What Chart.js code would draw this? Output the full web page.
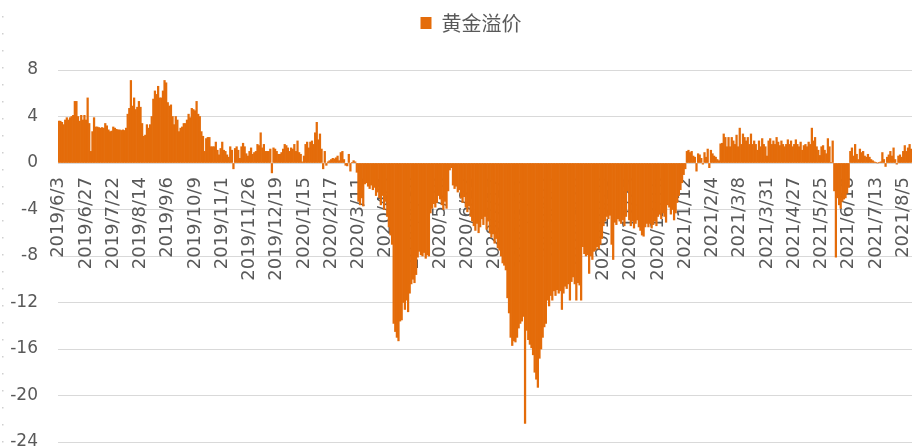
<!DOCTYPE html>
<html>
<head>
<meta charset="utf-8">
<script src="https://cdn.jsdelivr.net/npm/chart.js@4.4.1/dist/chart.umd.min.js"></script>
<style>
html,body{margin:0;padding:0;background:#fff;}
#wrap{width:912px;height:447px;position:relative;}
</style>
</head>
<body>
<div id="wrap"><canvas id="c"></canvas></div>
<script>
// ---- data ----
const seriesName = '黄金溢价';

// 2019-06-03 .. 2019-12-31
const premium2019 = [
  3.6, 3.6, 3.5, 3.3, 3.7, 3.9, 3.7, 3.9, 4.0, 4.1,
  5.3, 5.3, 4.0, 3.6, 4.1, 3.7, 4.1, 3.7, 5.6, 3.4,
  1.0, 2.7, 3.9, 3.1, 3.1, 3.05, 3.0, 3.05, 3.0, 3.4,
  3.2, 2.85, 2.7, 2.75, 3.1, 3.0, 2.9, 2.85, 2.85, 2.8,
  2.85, 2.8, 3.0, 4.2, 4.7, 7.1, 4.9, 5.6, 4.6, 4.8,
  5.3, 4.8, 3.4, 2.3, 2.4, 3.3, 3.0, 3.3, 4.0, 5.5,
  6.2, 5.9, 6.6, 5.6, 5.6, 6.2, 7.1, 6.9, 5.2, 4.9,
  5.0, 4.0, 3.3, 4.0, 3.7, 2.7, 3.0, 3.1, 3.4, 3.4,
  3.7, 4.2, 3.9, 4.7, 4.6, 4.5, 5.3, 4.2, 4.0, 2.7,
  2.3, 1.0, 2.1, 2.2, 2.2, 1.4, 1.4, 1.4, 1.8, 1.1,
  0.7, 1.25, 1.8, 1.1, 1.0, 0.7, 0.5, 1.4, 1.1, -0.5,
  1.25, 1.4, 1.1, 0.4, 1.4, 1.7, 1.4, 0.8, 0.6, 1.0,
  1.3, 0.75, 0.9, 1.0, 1.6, 1.5, 2.6, 1.3, 1.6, 1.0,
  1.0, 1.0, 1.2, -0.85, 1.3, 1.2, 1.0, 0.75, 0.75, 0.9,
  1.2, 1.6, 1.5, 1.3
];

// 2020-01-02 .. 2020-12-31
const premium2020 = [
  1.0, 1.3, 1.2, 1.6, 1.0, 1.9,
  0.9, 0.75, 0.1, 0.6, 1.6, 1.8, 1.3, 1.8, 1.9, 1.6,
  2.6, 3.5, 2.0, 2.5, 1.2, -0.5, 1.0, -0.2, 0.1, 0.2,
  0.3, 0.4, 0.35, 0.45, 0.6, 0.2, 0.9, 1.0, 0.3, -0.2,
  -0.25, 0.75, -0.7, 0.05, 0.2, 0.1, -0.8, -3.3, -3.6, -3.0,
  -3.7, -1.8, -1.7, -2.0, -2.2, -1.9, -2.3, -2.1, -2.8, -2.5,
  -3.0, -3.6, -2.8, -4.0, -3.3, -4.6, -5.5, -6.2, -7.0, -13.8,
  -14.5, -15.0, -15.3, -13.6, -13.5, -12.0, -12.6, -11.8, -12.8, -11.2,
  -10.4, -10.0, -10.3, -9.6, -8.1, -7.6, -7.9, -8.0, -7.7, -8.2,
  -7.9, -8.0, -4.3, -3.9, -3.5, -3.8, -3.4, -2.8, -3.1, -3.6,
  -4.0, -3.3, -3.9, -2.4, -0.6, -0.4, -1.9, -2.2, -2.0, -2.5,
  -2.3, -3.0, -3.4, -2.9, -3.8, -4.2, -3.7, -4.6, -5.0, -5.4,
  -5.8, -5.2, -6.0, -5.5, -4.8, -5.3, -4.6, -5.7, -5.0, -6.0,
  -6.4, -6.1, -6.9, -6.5, -7.3, -7.5, -8.0, -8.6, -8.8, -9.2,
  -11.6, -12.9, -15.0, -15.7, -15.3, -15.4, -15.0, -14.2, -13.8, -13.6,
  -13.2, -22.4, -14.4, -15.2, -15.6, -15.9, -16.5, -18.0, -18.6, -19.3,
  -16.8, -16.0, -15.0, -14.1, -13.8, -11.8, -12.3, -11.4, -11.8, -11.0,
  -11.4, -10.9, -11.2, -11.0, -12.6, -11.2, -10.6, -10.8, -10.4, -11.8,
  -10.2, -9.8, -10.4, -11.8, -10.3, -10.5, -11.8, -7.2, -7.8, -8.0,
  -7.9, -9.5, -8.0, -8.3, -7.6, -7.5, -7.2, -7.4, -7.0, -6.5,
  -5.4, -5.0, -4.6, -4.8, -4.5, -7.0, -8.3, -5.1, -5.3, -4.8,
  -5.0, -5.2, -4.9, -5.4, -4.6, -2.4, -4.9, -5.4, -5.0, -5.6,
  -5.2, -4.9, -5.5, -5.8, -6.2, -6.3, -5.5, -5.2, -5.5, -5.2,
  -5.6, -5.3, -5.0, -5.4, -4.6, -4.4, -4.8, -4.3, -4.6, -5.1,
  -3.6, -3.8, -4.4, -4.0, -4.9
];

// 2021-01-04 .. 2021-08-12
const premium2021 = [
  -4.3, -3.4, -2.8, -2.3, -1.7,
  -1.0, -0.5, 1.0, 1.1, 0.9, 1.0, 0.6, 0.5, -0.7, 0.8,
  0.7, 0.4, -0.1, 0.9, 0.5, 1.2, -0.4, 1.1, 0.8, 0.6,
  0.5, 0.3, 0.2, 1.65, 1.7, 2.5, 2.2, 1.4, 2.2, 1.4,
  2.2, 1.9, 1.6, 2.4, 1.4, 3.0, 1.6, 2.5, 2.2, 1.9,
  2.2, 1.6, 2.5, 1.6, 1.9, 1.6, 1.1, 1.9, 1.4, 2.1,
  1.6, 1.4, 0.6, 1.9, 2.1, 1.6, 1.9, 1.6, 2.2, 1.8,
  1.5, 1.9, 1.6, 1.4, 1.6, 2.0, 1.6, 1.9, 1.4, 1.6,
  2.0, 1.6, 1.4, 1.8, 1.1, 1.5, 1.6, 1.4, 1.8, 1.6,
  3.0, 1.9, 2.2, 1.4, 1.1, 0.65, 1.4, 1.5, 1.1, 0.8,
  2.1, 1.4, 0.05, 1.9, -2.4, -8.1, -3.0, -3.6, -3.9, -3.3,
  -3.1, -3.0, -2.6, -2.1, 1.0, 1.3, 0.6, 1.6, 0.75, 0.3,
  1.2, 0.9, 1.0, 0.6, 0.5, 0.75, 0.5, 0.3, 0.2, 0.1,
  0.05, 0.0, 0.05, 0.1, 0.9, 0.3, -0.3, 0.5, 0.7, 1.0,
  0.6, 1.3, 0.3, -0.1, 0.6, 0.7, 0.5, 1.0, 1.5, 1.0,
  1.3, 1.6, 1.2
];

// tick labels shown on the category axis (every 17th trading day)
const tickLabels = [
  '2019/6/3','2019/6/27','2019/7/22','2019/8/14','2019/9/6','2019/10/9',
  '2019/11/1','2019/11/26','2019/12/19','2020/1/15','2020/2/17','2020/3/11',
  '2020/4/3','2020/4/30','2020/5/28','2020/6/22','2020/7/17','2020/8/11',
  '2020/9/3','2020/9/28','2020/10/29','2020/11/23','2020/12/16','2021/1/12',
  '2021/2/4','2021/3/8','2021/3/31','2021/4/27','2021/5/25','2021/6/18',
  '2021/7/13','2021/8/5'
];
const tickEvery = 17;

const yTicks = { min: -24, max: 8, step: 4 };

// non-trading weekdays used to build the daily category list
const closedDays = [
  '2019-06-07','2019-09-13','2019-10-01','2019-10-02','2019-10-03','2019-10-04','2019-10-07',
  '2019-12-25','2020-01-01','2020-01-24','2020-01-27','2020-01-28','2020-01-29','2020-01-30','2020-01-31',
  '2020-04-06','2020-04-10','2020-05-01','2020-05-04','2020-05-05','2020-06-25','2020-06-26',
  '2020-10-01','2020-10-02','2020-10-05','2020-10-06','2020-10-07','2020-10-08','2020-12-25',
  '2021-01-01','2021-02-11','2021-02-12','2021-02-15','2021-02-16','2021-02-17',
  '2021-04-02','2021-04-05','2021-05-03','2021-05-04','2021-05-05','2021-06-14'
];
const firstDay = '2019-06-03';

// ---- build ----
const values = premium2019.concat(premium2020, premium2021);

const categories = [];
(function () {
  const closed = new Set(closedDays);
  const d = new Date(firstDay + 'T00:00:00Z');
  while (categories.length < values.length) {
    const wd = d.getUTCDay();
    const iso = d.toISOString().slice(0, 10);
    if (wd !== 0 && wd !== 6 && !closed.has(iso)) {
      categories.push(d.getUTCFullYear() + '/' + (d.getUTCMonth() + 1) + '/' + d.getUTCDate());
    }
    d.setUTCDate(d.getUTCDate() + 1);
  }
})();

const textColor = '#595959';
const gridColor = '#d9d9d9';
const barColor = '#E46C0A';

const legendSizer = {
  id: 'legendSizer',
  beforeLayout(chart) {
    const lg = chart.legend;
    if (lg && !lg.__sized) {
      const f = lg.fit;
      lg.fit = function () { f.call(this); this.height = 70; };
      lg.__sized = true;
    }
  },
  afterLayout(chart) {
    const lg = chart.legend;
    if (lg) { lg.left += 15; lg.right += 15; }
  }
};

const edgeDots = {
  id: 'edgeDots',
  afterDraw(chart) {
    const ctx = chart.ctx;
    ctx.save();
    ctx.fillStyle = '#cfcfcf';
    for (let y = 16; y < chart.height; y += 17) ctx.fillRect(2, y, 1.5, 1.5);
    ctx.restore();
  }
};

function noScalePadding(scale) {
  scale.paddingLeft = 0; scale.paddingRight = 0;
  scale.paddingTop = 0; scale.paddingBottom = 0;
}

new Chart(document.getElementById('c'), {
  type: 'bar',
  data: {
    labels: categories,
    datasets: [{
      label: seriesName,
      data: values,
      backgroundColor: barColor,
      borderWidth: 0,
      barPercentage: 1.0,
      categoryPercentage: 1.0
    }]
  },
  options: {
    responsive: true,
    maintainAspectRatio: false,
    animation: false,
    devicePixelRatio: 1,
    layout: {
      autoPadding: false,
      padding: { top: 0, left: 0, right: 0, bottom: 5 }
    },
    plugins: {
      legend: {
        display: true,
        position: 'top',
        labels: {
          boxWidth: 11,
          boxHeight: 12,
          padding: 13,
          color: textColor,
          font: { family: '"Noto Sans CJK SC", sans-serif', size: 20 }
        }
      },
      tooltip: { enabled: false }
    },
    scales: {
      x: {
        position: { y: 0 },
        grid: { display: false, drawTicks: false },
        border: { display: false },
        ticks: {
          autoSkip: false,
          minRotation: 90,
          maxRotation: 90,
          padding: 14,
          color: textColor,
          font: { family: '"DejaVu Sans", sans-serif', size: 18 },
          callback: function (val, i) {
            return i % tickEvery === 0 ? (tickLabels[i / tickEvery] || '') : '';
          }
        },
        afterFit: noScalePadding
      },
      y: {
        min: yTicks.min,
        max: yTicks.max,
        grid: { color: gridColor, lineWidth: 1, drawTicks: false },
        border: { display: false },
        ticks: {
          stepSize: yTicks.step,
          padding: 20,
          color: textColor,
          font: { family: '"DejaVu Sans", sans-serif', size: 17 }
        },
        afterFit(scale) { noScalePadding(scale); scale.width = 58; }
      }
    }
  },
  plugins: [legendSizer, edgeDots]
});
</script>
</body>
</html>
